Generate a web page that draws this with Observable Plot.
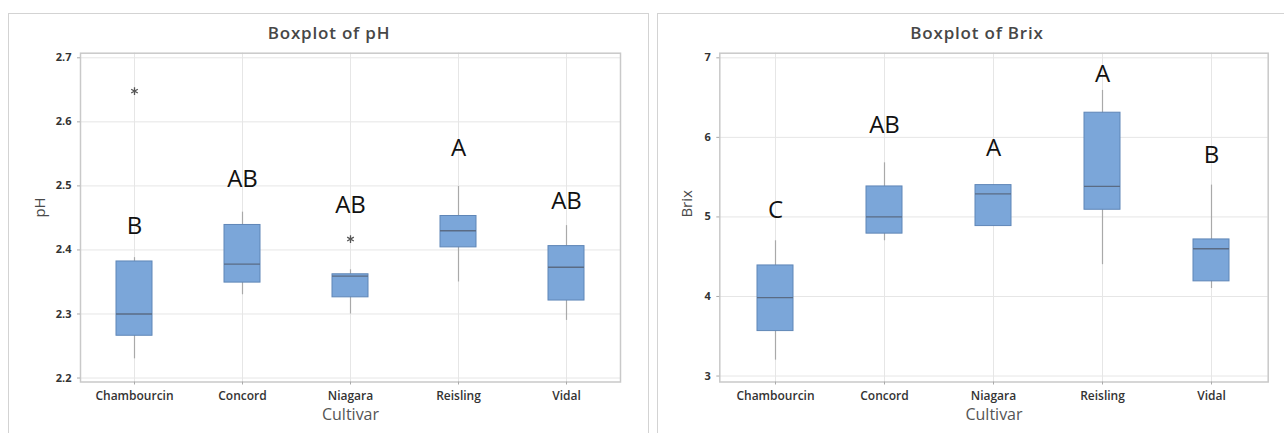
<!DOCTYPE html>
<html>
<head>
<meta charset="utf-8">
<script src="https://cdn.jsdelivr.net/npm/d3@7"></script>
<script src="https://cdn.jsdelivr.net/npm/@observablehq/plot@0.6"></script>
<style>
  html, body { margin: 0; padding: 0; background: #fff; }
  body { width: 1284px; height: 433px; position: relative; overflow: hidden; font-family: "Open Sans", sans-serif; }
  .panel { position: absolute; top: 13px; height: 440px; border: 1.5px solid #d3d3d3; border-bottom: none; box-sizing: border-box; }
  .title { position: absolute; top: 21px; font-size: 17px; font-weight: 600; color: #474747; letter-spacing: 0.8px; transform: translateX(-50%); white-space: nowrap; }
  .chart { position: absolute; top: 40px; }
</style>
</head>
<body>
<div class="panel" style="left:8px; width:641px;"></div>
<div class="panel" style="left:657px; width:700px;"></div>
<div class="title" style="left:329px;">Boxplot of pH</div>
<div class="title" style="left:977px;">Boxplot of Brix</div>
<div class="chart" id="left" style="left:0px;"></div>
<div class="chart" id="right" style="left:650px;"></div>
<script>
// ---- data ----
const cultivars = ["Chambourcin", "Concord", "Niagara", "Reisling", "Vidal"];

// pH
const phLow    = [2.230, 2.330, 2.300, 2.350, 2.290];
const phQ1     = [2.266, 2.349, 2.326, 2.404, 2.321];
const phMedian = [2.300, 2.378, 2.359, 2.430, 2.373];
const phQ3     = [2.382, 2.439, 2.362, 2.453, 2.406];
const phHigh   = [2.388, 2.459, 2.369, 2.499, 2.438];
const phOutlierCultivar = ["Chambourcin", "Niagara"];
const phOutlierValue    = [2.648, 2.417];
const phLetters = ["B", "AB", "AB", "A", "AB"];
const phLetterY = [2.437, 2.511, 2.469, 2.558, 2.476];
const phTicks = [2.2, 2.3, 2.4, 2.5, 2.6, 2.7];

// Brix
const brixLow    = [3.20, 4.70, 4.885, 4.40, 4.10];
const brixQ1     = [3.565, 4.79, 4.885, 5.09, 4.19];
const brixMedian = [3.985, 5.00, 5.29, 5.383, 4.60];
const brixQ3     = [4.39, 5.383, 5.40, 6.31, 4.717];
const brixHigh   = [4.70, 5.68, 5.40, 6.59, 5.40];
const brixLetters = ["C", "AB", "A", "A", "B"];
const brixLetterY = [5.082, 6.15, 5.864, 6.79, 5.773];
const brixTicks = [3, 4, 5, 6, 7];

function rowsOf(lo, q1, med, q3, hi, letters, ly) {
  return cultivars.map((c, i) => ({cultivar: c, lo: lo[i], q1: q1[i], med: med[i], q3: q3[i], hi: hi[i], letter: letters[i], ly: ly[i]}));
}

function boxplot({rows, outliers, yDomain, yTicks, tickFormat, yLabel, width, ml, mr, labelDx}) {
  return Plot.plot({
    width, height: 393,
    marginTop: 12.7, marginBottom: 51.5, marginLeft: ml, marginRight: mr,
    style: {background: "none", fontFamily: "'Open Sans', sans-serif", overflow: "visible"},
    x: {type: "band", domain: cultivars, paddingInner: 0.667, paddingOuter: 0.3335, axis: null},
    y: {domain: yDomain, axis: null},
    marks: [
      Plot.gridY(yTicks, {stroke: "#e6e6e6", strokeOpacity: 1}),
      Plot.gridX(cultivars, {stroke: "#e6e6e6", strokeOpacity: 1}),
      Plot.frame({stroke: "#c9c9c9", strokeWidth: 1.5}),
      Plot.axisY(yTicks, {tickSize: 3, tickPadding: 6, tickFormat, fontSize: 11, fontWeight: 700, fill: "#333", stroke: "#aaa", label: null}),
      Plot.axisX(cultivars, {tickSize: 3, tickPadding: 6, fontSize: 12, fontWeight: 600, fill: "#333", stroke: "#aaa", label: null}),
      Plot.ruleX(rows, {x: "cultivar", y1: "lo", y2: "hi", stroke: "#a9a9a9", strokeWidth: 1.2}),
      Plot.barY(rows, {x: "cultivar", y1: "q1", y2: "q3", fill: "#7ba6d9", stroke: "#5f86b7", strokeWidth: 1}),
      Plot.tickY(rows, {x: "cultivar", y: "med", stroke: "#5a6b84", strokeWidth: 1.3}),
      Plot.dot(outliers, {x: "cultivar", y: "value", symbol: "asterisk", r: 3.6, stroke: "#555", strokeWidth: 1.3}),
      Plot.text(rows, {x: "cultivar", y: "ly", text: "letter", fontSize: 24, fill: "#111"}),
      Plot.text([yLabel], {text: d => d, frameAnchor: "left", dx: labelDx, rotate: -90, fontSize: 15, fontWeight: 500, fill: "#4a4a4a"}),
      Plot.text(["Cultivar"], {text: d => d, frameAnchor: "bottom", dy: 38, fontSize: 16, fill: "#555"})
    ]
  });
}

const phRows = rowsOf(phLow, phQ1, phMedian, phQ3, phHigh, phLetters, phLetterY);
const phOut = phOutlierCultivar.map((c, i) => ({cultivar: c, value: phOutlierValue[i]}));
const brixRows = rowsOf(brixLow, brixQ1, brixMedian, brixQ3, brixHigh, brixLetters, brixLetterY);

document.getElementById("left").append(boxplot({
  rows: phRows, outliers: phOut, yDomain: [2.1938, 2.7072], yTicks: phTicks,
  tickFormat: d3.format(".1f"), yLabel: "pH", width: 648, ml: 80, mr: 28, labelDx: -40
}));
document.getElementById("right").append(boxplot({
  rows: brixRows, outliers: [], yDomain: [2.925, 7.058], yTicks: brixTicks,
  tickFormat: d3.format("d"), yLabel: "Brix", width: 634, ml: 69.3, mr: 16.3, labelDx: -33
}));
</script>
</body>
</html>
